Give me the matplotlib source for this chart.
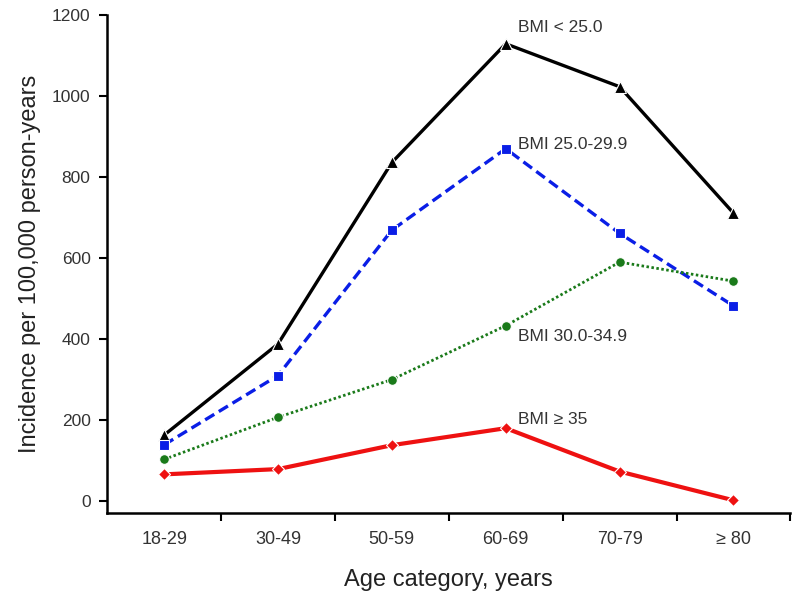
import numpy as np
import matplotlib
matplotlib.use("Agg")
import matplotlib.pyplot as plt

plt.rcParams['font.family'] = ['Liberation Sans', 'DejaVu Sans']

ages = ["18-29", "30-49", "50-59", "60-69", "70-79", "\u2265 80"]
bmi_lt25 = [163, 388, 836, 1129, 1023, 711]
bmi_25_29 = [139, 310, 669, 870, 661, 482]
bmi_30_34 = [103, 207, 300, 433, 590, 543]
bmi_ge35 = [66, 79, 138, 180, 73, 2]

series = [
    (bmi_lt25, "BMI < 25.0", dict(color="black", ls="-", lw=2.4, marker="^", ms=8), 1170),
    (bmi_25_29, "BMI 25.0-29.9", dict(color="#0a1ee6", ls=(0, (3.2, 1.6)), lw=2.4, marker="s", ms=7), 880),
    (bmi_30_34, "BMI 30.0-34.9", dict(color="#1a7a1a", ls=(0, (0.9, 0.9)), lw=2.0, marker="o", ms=7), 406),
    (bmi_ge35, "BMI \u2265 35", dict(color="#ee1111", ls="-", lw=3.0, marker="D", ms=6.5), 202),
]

fig = plt.figure(figsize=(8, 6.01), dpi=100)
ax = fig.add_axes([0.134, 0.146, 0.854, 0.829])
x = np.arange(len(ages))
for vals, lab, kw, ty in series:
    ax.plot(x, vals, mec="white", mew=0.8, **kw)
    ax.text(3.11, ty, lab, fontsize=12.5, color="#333333", ha="left", va="center")

ax.set_xlim(-0.5, 5.5)
ax.set_ylim(-30, 1200)
ax.set_yticks(np.arange(0, 1201, 200))
ax.set_xticks(x)
ax.set_xticklabels(ages)
ax.set_xticks(np.arange(0.5, 6, 1), minor=True)
ax.tick_params(axis="x", which="major", length=0, pad=13, labelsize=13, labelcolor="#333333")
ax.tick_params(axis="x", which="minor", length=6, width=1.5, direction="out")
ax.tick_params(axis="y", length=6, width=1.5, direction="out", pad=6, labelsize=12.5, labelcolor="#333333")
for s in ["top", "right"]:
    ax.spines[s].set_visible(False)
for s in ["left", "bottom"]:
    ax.spines[s].set_linewidth(1.8)
ax.set_xlabel("Age category, years", fontsize=17, color="#222222", labelpad=15)
ax.set_ylabel("Incidence per 100,000 person-years", fontsize=17, color="#222222", labelpad=8)

fig.savefig("out.png", dpi=100)
